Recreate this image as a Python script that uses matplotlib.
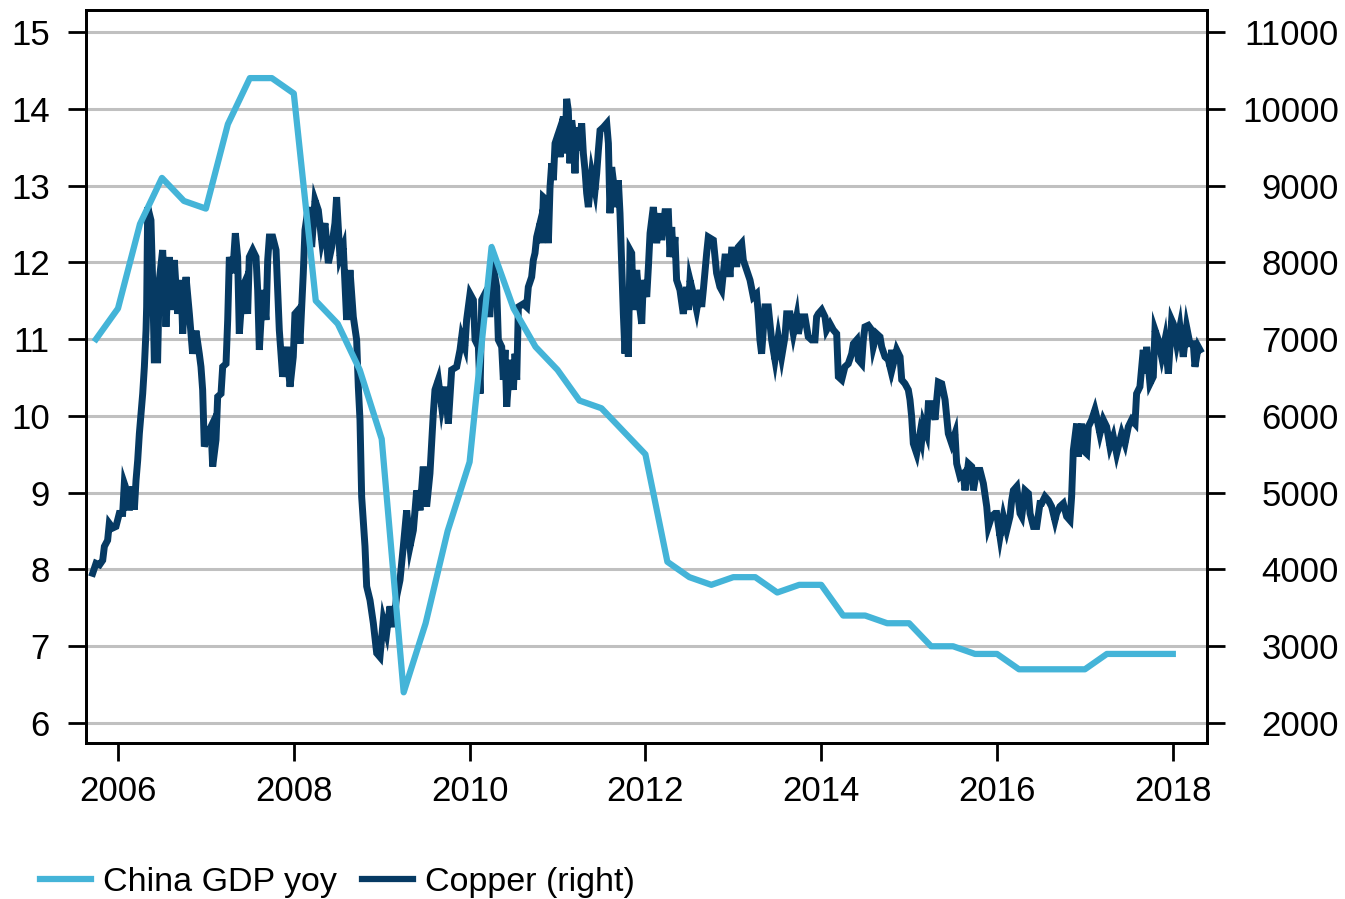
import numpy as np
import matplotlib
matplotlib.use("Agg")
import matplotlib.pyplot as plt

plt.rcParams["font.family"] = ["Liberation Sans", "DejaVu Sans"]
plt.rcParams["font.size"] = 25

# China GDP yoy, quarterly (decimal years)
gdp_t = np.arange(2005.75, 2018.01, 0.25)
gdp_v = [11.0,
         11.4, 12.5, 13.1, 12.8,
         12.7, 13.8, 14.4, 14.4,
         14.2, 11.5, 11.2, 10.6,
         9.7, 6.4, 7.3, 8.5,
         9.4, 12.2, 11.4, 10.9,
         10.6, 10.2, 10.1, 9.8,
         9.5, 8.1, 7.9, 7.8,
         7.9, 7.9, 7.7, 7.8,
         7.8, 7.4, 7.4, 7.3,
         7.3, 7.0, 7.0, 6.9,
         6.9, 6.7, 6.7, 6.7,
         6.7, 6.9, 6.9, 6.9,
         6.9]

# Copper price (USD/t)
copper_t = [
    2005.712, 2005.750, 2005.790, 2005.826, 2005.845, 2005.882, 2005.901, 2005.940, 2005.977,
    2006.015, 2006.053, 2006.072, 2006.110, 2006.129, 2006.167, 2006.186, 2006.205, 2006.224, 2006.243,
    2006.281, 2006.300, 2006.319, 2006.326, 2006.338, 2006.375, 2006.394, 2006.413, 2006.451, 2006.470,
    2006.508, 2006.546, 2006.584, 2006.603, 2006.641, 2006.679, 2006.717, 2006.736, 2006.774, 2006.812,
    2006.849, 2006.887, 2006.925, 2006.944, 2006.963, 2006.982,
    2007.020, 2007.058, 2007.077, 2007.115, 2007.134, 2007.172, 2007.191, 2007.229, 2007.248, 2007.267,
    2007.305, 2007.335, 2007.361, 2007.380, 2007.418, 2007.437, 2007.475, 2007.494, 2007.532, 2007.570,
    2007.589, 2007.608, 2007.646, 2007.684, 2007.703, 2007.722, 2007.760, 2007.798, 2007.835, 2007.873,
    2007.919, 2007.957, 2007.994, 2008.013, 2008.051, 2008.070, 2008.108, 2008.127, 2008.165, 2008.203,
    2008.241, 2008.279, 2008.317, 2008.355, 2008.393, 2008.431, 2008.468, 2008.487, 2008.525, 2008.563,
    2008.601, 2008.639, 2008.677, 2008.715, 2008.734, 2008.753, 2008.772, 2008.810, 2008.829, 2008.867,
    2008.905, 2008.943, 2008.980, 2009.018, 2009.056, 2009.094, 2009.132, 2009.170, 2009.208, 2009.246,
    2009.284, 2009.322, 2009.360, 2009.398, 2009.436, 2009.473, 2009.511, 2009.549, 2009.587, 2009.606,
    2009.644, 2009.682, 2009.720, 2009.758, 2009.796, 2009.853, 2009.891, 2009.910, 2009.947, 2009.966,
    2010.005, 2010.043, 2010.062, 2010.100, 2010.119, 2010.138, 2010.156, 2010.194, 2010.232, 2010.251,
    2010.270, 2010.308, 2010.327, 2010.365, 2010.384, 2010.403, 2010.422, 2010.460, 2010.498, 2010.517,
    2010.536, 2010.555, 2010.612, 2010.649, 2010.668, 2010.706, 2010.725, 2010.744, 2010.763, 2010.801,
    2010.820, 2010.839, 2010.877, 2010.896, 2010.915, 2010.934, 2010.953, 2010.972, 2011.010, 2011.029,
    2011.048, 2011.067, 2011.086, 2011.104, 2011.123, 2011.142, 2011.161, 2011.180, 2011.199, 2011.218,
    2011.237, 2011.275, 2011.294, 2011.313, 2011.332, 2011.351, 2011.389, 2011.427, 2011.446, 2011.465,
    2011.484, 2011.522, 2011.560, 2011.579, 2011.597, 2011.616, 2011.635, 2011.673, 2011.692, 2011.711,
    2011.749, 2011.768, 2011.787, 2011.806, 2011.825, 2011.844, 2011.863, 2011.901, 2011.939, 2011.958,
    2011.977, 2012.015, 2012.034, 2012.053, 2012.072, 2012.090, 2012.128, 2012.166,
    2012.185, 2012.223, 2012.261, 2012.280, 2012.299, 2012.317, 2012.336, 2012.355, 2012.393, 2012.431,
    2012.469, 2012.488, 2012.507, 2012.545, 2012.583, 2012.621, 2012.640, 2012.659, 2012.697, 2012.716,
    2012.773, 2012.810, 2012.848, 2012.867, 2012.905, 2012.943, 2012.962, 2012.981, 2013.019, 2013.038,
    2013.057, 2013.095, 2013.114, 2013.152, 2013.190, 2013.228, 2013.265, 2013.284, 2013.303, 2013.322,
    2013.360, 2013.398, 2013.436, 2013.474, 2013.512, 2013.550, 2013.588, 2013.607, 2013.645, 2013.683,
    2013.721, 2013.740, 2013.777, 2013.815, 2013.853, 2013.891, 2013.929, 2013.948, 2013.967, 2014.005,
    2014.043, 2014.062, 2014.100, 2014.138, 2014.176, 2014.195, 2014.233, 2014.270, 2014.308,
    2014.347, 2014.366, 2014.404, 2014.423, 2014.460, 2014.479, 2014.498, 2014.536, 2014.574, 2014.593,
    2014.631, 2014.669, 2014.688, 2014.726, 2014.764, 2014.783, 2014.802, 2014.821, 2014.859, 2014.897,
    2014.916, 2014.953, 2014.991, 2015.010, 2015.029, 2015.048, 2015.086, 2015.124, 2015.143, 2015.162,
    2015.200, 2015.219, 2015.257, 2015.295, 2015.314, 2015.333, 2015.371, 2015.409, 2015.446, 2015.484,
    2015.522, 2015.541, 2015.579, 2015.617, 2015.636, 2015.674, 2015.712, 2015.731, 2015.769, 2015.807,
    2015.845, 2015.883, 2015.902, 2015.939, 2015.977, 2015.996, 2016.034, 2016.072, 2016.110, 2016.148,
    2016.167, 2016.186, 2016.224, 2016.262, 2016.281, 2016.319, 2016.357, 2016.376, 2016.414, 2016.452,
    2016.489,
    2016.508, 2016.546, 2016.584, 2016.621, 2016.659, 2016.678, 2016.716, 2016.754, 2016.792, 2016.830,
    2016.849, 2016.868, 2016.906, 2016.925, 2016.963, 2016.982, 2017.020, 2017.039, 2017.077, 2017.114,
    2017.133, 2017.171, 2017.209, 2017.247, 2017.285, 2017.323, 2017.361, 2017.380, 2017.418, 2017.456,
    2017.494, 2017.532, 2017.570, 2017.588, 2017.626, 2017.664, 2017.683, 2017.702, 2017.740, 2017.778,
    2017.797, 2017.835, 2017.873, 2017.911, 2017.949, 2017.987, 2018.006, 2018.044, 2018.081, 2018.119,
    2018.157, 2018.195, 2018.233, 2018.252, 2018.290, 2018.309,
]
copper_v = [
    3950, 4080, 4060, 4120, 4300, 4380, 4600, 4540, 4560,
    4730, 4730, 5120, 4990, 4770, 5080, 4780, 5160, 5420, 5770,
    6290, 6640, 7120, 7420, 8720, 8550, 7770, 6730, 6730, 7770,
    8160, 7160, 8070, 7380, 8030, 7330, 7770, 7070, 7810, 7330,
    6810, 7110, 6810, 6640, 6340, 5600,
    5770, 5860, 5340, 5690, 6250, 6290, 6640, 6680, 7250, 8070,
    7860, 8380, 8070, 7070, 7680, 7730, 7330, 8070, 8160, 8070,
    7640, 6860, 7640, 7250, 8030, 8330, 8330, 8160, 7120, 6510,
    6900, 6380, 6770, 7330, 7380, 6940, 7860, 8420, 8720, 8200,
    8810, 8680, 8290, 8510, 7990, 8200, 8510, 8850, 8070, 8200,
    7250, 7900, 7290, 6990, 6380, 5950, 4950, 4300, 3780, 3600,
    3300, 2910, 2860, 3340, 3170, 3520, 3250, 3650, 3860, 4300,
    4770, 4300, 4510, 5030, 4770, 5340, 4820, 5250, 6030, 6340,
    6470, 6120, 6380, 5900, 6600, 6640, 6860, 7030, 6900, 7250,
    7590, 7510, 6990, 6900, 6290, 7510, 7550, 7330, 7330, 7770,
    7940, 7680, 6990, 6900, 6470, 6860, 6120, 6730, 6340, 6810,
    6470, 7420, 7460, 7420, 7680, 7810, 8030, 8120, 8330, 8510,
    8250, 8850, 8810, 8250, 8980, 9290, 9070, 9550, 9680, 9370,
    9720, 9900, 9420, 10130, 9980, 9290, 9850, 9680, 9160, 9760,
    9460, 9810, 9420, 9200, 8900, 8720, 9160, 8940, 9160, 9460,
    9720, 9760, 9810, 9550, 8640, 9240, 9070, 8720, 9070, 8640,
    7330, 6810, 7330, 6770, 8160, 8120, 7380, 7900, 7380, 7200,
    7770, 7550, 7940, 8380, 8550, 8720, 8250, 8640,
    8290, 8660, 8660, 8070, 8460, 8070, 8330, 7770, 7640, 7330,
    7680, 7380, 7770, 7590, 7380, 7640, 7420, 7640, 8120, 8330,
    8290, 7860, 7680, 7640, 8070, 8070, 7810, 8160, 8160, 7940,
    8200, 8250, 8030, 7900, 7770, 7550, 7590, 7330, 6990, 6810,
    7420, 7420, 6990, 6730, 7030, 6770, 7030, 7330, 7330, 7070,
    7290, 7070, 7290, 7290, 7030, 6990, 6990, 7290, 7330, 7380,
    7290, 7120, 7200, 7120, 7070, 6510, 6470, 6640, 6680,
    6810, 6940, 6990, 6730, 6680, 6990, 7160, 7180, 7120, 6900,
    7070, 7030, 6900, 6770, 6730, 6640, 6860, 6680, 6860, 6770,
    6470, 6420, 6340, 6210, 5990, 5640, 5510, 5770, 5680, 5900,
    5770, 6160, 6160, 5950, 6210, 6440, 6420, 6210, 5770, 5640,
    5770, 5380, 5210, 5250, 5030, 5380, 5340, 5030, 5290, 5290,
    5120, 4820, 4560, 4690, 4730, 4730, 4430, 4690, 4510, 4690,
    4900, 5030, 5080, 4730, 4690, 5030, 4990, 4730, 4560, 4560,
    4860,
    4860, 4950, 4900, 4820, 4640, 4730, 4820, 4860, 4690, 4640,
    4950, 5550, 5900, 5470, 5900, 5550, 5510, 5860, 5950, 6080,
    5990, 5770, 5950, 5860, 5600, 5730, 5510, 5600, 5770, 5640,
    5860, 5950, 5900, 6290, 6380, 6860, 6550, 6900, 6420, 6510,
    7120, 6990, 6770, 6990, 6550, 7250, 7200, 6940, 7160, 6770,
    7160, 6940, 6940, 6640, 6900, 6860,
]

left_ticks = [6, 7, 8, 9, 10, 11, 12, 13, 14, 15]
right_ticks = [2000, 3000, 4000, 5000, 6000, 7000, 8000, 9000, 10000, 11000]
year_ticks = [2006, 2008, 2010, 2012, 2014, 2016, 2018]

gdp_color = "#44B4D8"
cu_color = "#063A63"

fig = plt.figure(figsize=(13.45, 8.99), dpi=100)
ax = fig.add_axes([86 / 1345, 1 - 743 / 899, 1121 / 1345, 733 / 899])
ax2 = ax.twinx()

# GDP drawn above copper
ax.set_zorder(ax2.get_zorder() + 1)
ax.patch.set_visible(False)

ax2.plot(copper_t, copper_v, color=cu_color, lw=5, solid_joinstyle="miter", zorder=3)
ax.plot(gdp_t, gdp_v, color=gdp_color, lw=4.5, zorder=3)

ax.set_xlim(2005.636, 2018.389)
ax.set_ylim(5.74, 15.287)
ax2.set_ylim(1740, 11287)

ax.set_yticks(left_ticks)
ax2.set_yticks(right_ticks)
ax.set_xticks(year_ticks)

ax2.grid(axis="y", color="#C0C0C0", lw=2.2)
ax2.set_axisbelow(True)

for a in (ax, ax2):
    for s in a.spines.values():
        s.set_linewidth(2)
        s.set_color("black")

ax.tick_params(axis="y", direction="out", length=13, width=2, pad=13)
ax.tick_params(axis="x", direction="out", length=13, width=2, pad=10)
ax2.tick_params(axis="y", direction="out", length=13, width=2, pad=82)
for lab in ax2.get_yticklabels():
    lab.set_horizontalalignment("right")

h1, = ax.plot([], [], color=gdp_color, lw=4.5)
h2, = ax.plot([], [], color=cu_color, lw=4.5)
fig.legend([h1, h2], ["China GDP yoy", "Copper (right)"], loc="center left",
           bbox_to_anchor=(40 / 1345, 1 - 882 / 899), ncol=2, frameon=False,
           fontsize=24.5, handlelength=1.5, handletextpad=0.35, columnspacing=0.75,
           borderpad=0, borderaxespad=0)

fig.savefig("out.png", dpi=100)
